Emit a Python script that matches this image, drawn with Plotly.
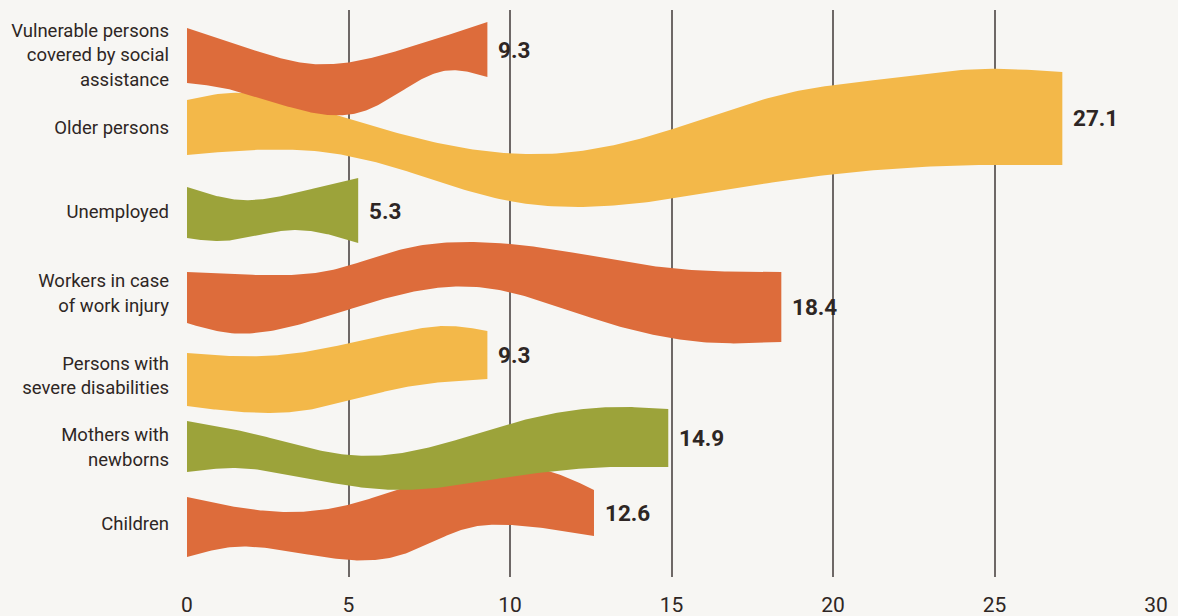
import numpy as np
import plotly.graph_objects as go

# ---- data -------------------------------------------------------------
categories = [
    "Vulnerable persons<br>covered by social<br>assistance",
    "Older persons",
    "Unemployed",
    "Workers in case<br>of work injury",
    "Persons with<br>severe disabilities",
    "Mothers with<br>newborns",
    "Children",
]
values = [9.3, 27.1, 5.3, 18.4, 9.3, 14.9, 12.6]
x_ticks = [0, 5, 10, 15, 20, 25, 30]

# ---- style ------------------------------------------------------------
ORANGE = "#dd6c3b"
YELLOW = "#f3b849"
GREEN = "#9ca33a"
colors = [ORANGE, YELLOW, GREEN, ORANGE, YELLOW, GREEN, ORANGE]
BG = "#f7f6f3"
INK = "#2e2624"
GRID = "#6e6866"
FONT = "Roboto"

# small nudges of the row labels relative to the row centre (row units)
label_nudge = [0.0, -0.07, 0.0, 0.045, 0.10, 0.015, 0.0]

# ribbon outlines: (fraction of bar length, offset from row centre in rows)
ribbon_top = [
    [(0, -.345), (.153, -.154), (.42, .115), (.71, -.064), (1, -.422)],
    [(0, -.425), (.048, -.514), (.164, -.258), (.362, .253), (.441, .24), (.544, -.015),
     (.687, -.514), (.8, -.7), (.906, -.821), (1, -.783)],
    [(0, -.311), (.317, -.145), (.677, -.259), (1, -.426)],
    [(0, -.224), (.122, -.186), (.244, -.25), (.356, -.505), (.49, -.607), (.624, -.505),
     (.811, -.275), (1, -.224)],
    [(0, -.188), (.268, -.15), (.712, -.457), (.88, -.533), (1, -.47)],
    [(0, -.317), (.132, -.164), (.335, .117), (.446, .092), (.676, -.292), (.885, -.497), (1, -.471)],
    [(0, -.345), (.237, -.154), (.395, -.243), (.526, -.46), (.798, -.742), (.9, -.66), (1, -.435)],
]
ribbon_bottom = [
    [(0, .358), (.153, .448), (.267, .576), (.443, .755), (.6, .704), (.71, .473), (.853, .205), (1, .281)],
    [(0, .279), (.164, .253), (.239, .445), (.362, .855), (.452, .944), (.544, .855), (.687, .599),
     (.906, .407), (1, .407)],
    [(0, .341), (.2, .38), (.617, .239), (1, .405)],
    [(0, .429), (.072, .556), (.172, .48), (.356, .071), (.49, -.032), (.691, .39), (.891, .684), (1, .672)],
    [(0, .49), (.378, .554), (.712, .26), (1, .144)],
    [(0, .335), (.096, .284), (.236, .399), (.446, .565), (.655, .412), (.885, .271), (1, .271)],
    [(0, .422), (.114, .294), (.198, .307), (.395, .46), (.526, .396), (.691, .051), (.798, .013), (1, .153)],
]


def smooth(points, n=200):
    """Natural cubic spline y(x) through the points, sampled densely."""
    p = np.asarray(points, dtype=float)
    x, y = p[:, 0], p[:, 1]
    k = len(x)
    h = np.diff(x)
    A = np.zeros((k, k))
    r = np.zeros(k)
    A[0, 0] = A[-1, -1] = 1.0
    for i in range(1, k - 1):
        A[i, i - 1] = h[i - 1]
        A[i, i] = 2 * (h[i - 1] + h[i])
        A[i, i + 1] = h[i]
        r[i] = 6 * ((y[i + 1] - y[i]) / h[i] - (y[i] - y[i - 1]) / h[i - 1])
    M = np.linalg.solve(A, r)
    xs = np.linspace(0, 1, n)
    j = np.clip(np.searchsorted(x, xs, side="right") - 1, 0, k - 2)
    a = x[j + 1] - xs
    b = xs - x[j]
    hj = h[j]
    ys = (M[j] * a ** 3 + M[j + 1] * b ** 3) / (6 * hj) \
        + (y[j] / hj - M[j] * hj / 6) * a + (y[j + 1] / hj - M[j + 1] * hj / 6) * b
    return np.column_stack([xs, ys])


fig = go.Figure()

# draw from the bottom row upwards so upper ribbons overlap lower ones
for i in reversed(range(len(values))):
    v = values[i]
    top = smooth(ribbon_top[i])
    bot = smooth(ribbon_bottom[i])
    xs = np.concatenate([top[:, 0], bot[::-1, 0]]) * v
    ys = i + np.concatenate([top[:, 1], bot[::-1, 1]])
    xs = np.append(xs, xs[0])
    ys = np.append(ys, ys[0])
    fig.add_trace(go.Scatter(
        x=xs, y=ys, mode="lines", fill="toself", fillcolor=colors[i],
        line=dict(width=0, color=colors[i]), hoverinfo="skip", showlegend=False,
    ))
    label_y = i + (ribbon_top[i][-1][1] + ribbon_bottom[i][-1][1]) / 2
    fig.add_annotation(
        x=v, y=label_y, text=f"<b>{v}</b>", showarrow=False,
        xanchor="left", yanchor="middle", xshift=9,
        font=dict(family=FONT, size=22.5, color=INK),
    )

fig.update_layout(
    width=1178, height=616,
    margin=dict(l=187, r=22, t=10, b=39),
    paper_bgcolor=BG, plot_bgcolor=BG,
    font=dict(family=FONT, color=INK),
)
fig.update_xaxes(
    range=[0, 30], tickvals=x_ticks, ticktext=[str(t) for t in x_ticks],
    showgrid=True, gridcolor=GRID, gridwidth=1.5, zeroline=False, showline=False,
    ticks="", tickfont=dict(family=FONT, size=21, color=INK), ticklabelstandoff=13,
    automargin=False, fixedrange=True,
)
fig.update_yaxes(
    range=[6.678, -0.576],
    tickvals=[i + d for i, d in enumerate(label_nudge)], ticktext=categories,
    showgrid=False, zeroline=False, showline=False, ticks="",
    tickfont=dict(family=FONT, size=18.5, color=INK), ticklabelstandoff=17,
    automargin=False, fixedrange=True,
)

fig.write_html("out.html")
